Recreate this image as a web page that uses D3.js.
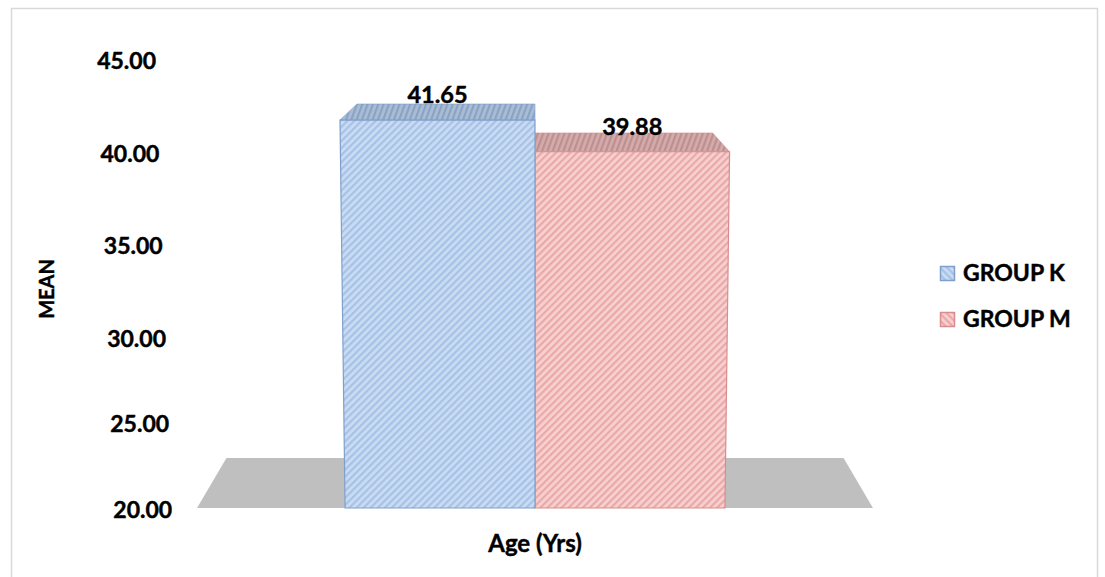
<!DOCTYPE html>
<html>
<head>
<meta charset="utf-8">
<script src="https://cdn.jsdelivr.net/npm/d3@7"></script>
<style>
  html, body { margin: 0; padding: 0; background: #ffffff; }
  svg { display: block; font-family: Lato, "Open Sans", sans-serif; font-weight: 700; }
  .lbl { fill: #000; stroke: #000; stroke-width: 0.45px; }
</style>
</head>
<body>
<svg id="chart" width="1105" height="577"></svg>
<script>
// ---- data ----
const categories = ["Age (Yrs)"];
const seriesNames = ["GROUP K", "GROUP M"];
const seriesValues = [41.65, 39.88];
const tickValues = [20, 25, 30, 35, 40, 45];
const valueAxisTitle = "MEAN";

// ---- colours ----
const faceColors = [
  { bg: "#cadcf3", stripe: "#a6c2e6", topBg: "#a9bdd6", topStripe: "#8ba3c2", edge: "#7f9fcb" },
  { bg: "#f7d0d0", stripe: "#eaa8a8", topBg: "#d4abab", topStripe: "#bd8f8f", edge: "#d98c8c" }
];

const svg = d3.select("#chart");
const defs = svg.append("defs");

// chart frame
svg.append("rect")
  .attr("x", 11.5).attr("y", 8.5).attr("width", 1086).attr("height", 620)
  .attr("fill", "#ffffff").attr("stroke", "#d9d9d9").attr("stroke-width", 1.5);

// ---- 3D projection helpers ----
const cx = 535;                       // horizontal vanishing centre
const k = 0.913;                      // lateral shrink from front to back
const g = y => 1 - (y - 120) * 0.000067;            // slight convergence of verticals
const depthDy = y => -16 - (y - 120) * 0.0876;      // vertical depth offset grows lower down
const px = (X, y) => cx + X * g(y);
const backPt = (X, y) => [cx + X * g(y) * k, y + depthDy(y)];

// front-face value scale
const yFront = d3.scaleLinear().domain([20, 45]).range([508, 60]);
// value axis (labels on the receding wall)
const yAxisScale = d3.scaleLinear()
  .domain(tickValues)
  .range([509, 423, 338, 245, 153, 60]);

// series positions across the single category
const xSeries = d3.scaleBand().domain(seriesNames).range([-195, 195]).padding(0);
const floorExtent = [-347, 347];

// ---- hatch patterns ----
function hatch(id, bg, stripe, angle) {
  const p = defs.append("pattern")
    .attr("id", id)
    .attr("patternUnits", "userSpaceOnUse")
    .attr("width", 8).attr("height", 5)
    .attr("patternTransform", `rotate(${angle})`);
  p.append("rect").attr("width", 8).attr("height", 5).attr("fill", bg);
  p.append("rect").attr("y", 0).attr("width", 8).attr("height", 2.2).attr("fill", stripe);
}
faceColors.forEach((c, i) => {
  hatch("front" + i, c.bg, c.stripe, -45);
  hatch("top" + i, c.topBg, c.topStripe, -70);
  hatch("legend" + i, c.bg, c.stripe, 45);
});

// ---- floor ----
const floorY = yFront(20);
const fl = [
  [px(floorExtent[0], floorY), floorY],
  [px(floorExtent[1], floorY), floorY],
  backPt(floorExtent[1], floorY),
  backPt(floorExtent[0], floorY)
];
svg.append("polygon")
  .attr("points", fl.map(p => p.join(",")).join(" "))
  .attr("fill", "#bfbfbf");

// ---- bars ----
const bars = seriesNames.map((name, i) => ({
  name, value: seriesValues[i], i,
  X0: xSeries(name), X1: xSeries(name) + xSeries.bandwidth()
}));

// top faces (drawn back to front: red first, blue overlaps)
const topG = svg.append("g");
bars.slice().reverse().forEach(b => {
  const yt = yFront(b.value);
  const pts = [
    [px(b.X0, yt), yt], [px(b.X1, yt), yt],
    backPt(b.X1, yt), backPt(b.X0, yt)
  ];
  topG.append("polygon")
    .attr("points", pts.map(p => p.join(",")).join(" "))
    .attr("fill", `url(#top${b.i})`)
    .attr("stroke", faceColors[b.i].edge).attr("stroke-width", 1)
    .attr("stroke-opacity", 0.6);
});

// front faces
bars.slice().reverse().forEach(b => {
  const yt = yFront(b.value), yb = yFront(20);
  const pts = [
    [px(b.X0, yt), yt], [px(b.X1, yt), yt],
    [px(b.X1, yb), yb], [px(b.X0, yb), yb]
  ];
  svg.append("polygon")
    .attr("points", pts.map(p => p.join(",")).join(" "))
    .attr("fill", `url(#front${b.i})`)
    .attr("stroke", faceColors[b.i].edge).attr("stroke-width", 1.2);
});

// value labels
svg.append("g").selectAll("text")
  .data(bars).join("text")
  .attr("class", "lbl")
  .attr("x", b => px((b.X0 + b.X1) / 2, yFront(b.value)))
  .attr("y", b => yFront(b.value) - 17)
  .attr("text-anchor", "middle")
  .attr("font-size", 23.5)
  .text(b => b.value.toFixed(2));

// ---- value axis ----
const axisG = svg.append("g")
  .call(d3.axisLeft(yAxisScale).tickValues(tickValues).tickFormat(d3.format(".2f")).tickSize(0));
axisG.select(".domain").remove();
axisG.selectAll(".tick text")
  .attr("class", "lbl")
  .attr("x", d => 156 + (yAxisScale(d) - 60) * 0.036)
  .attr("dy", "0.35em")
  .attr("text-anchor", "end")
  .attr("font-size", 23)
  .attr("font-family", "Lato, 'Open Sans', sans-serif")
  .attr("font-weight", 700);

// axis titles
svg.append("text")
  .attr("class", "lbl")
  .attr("transform", "translate(54,289) rotate(-90)")
  .attr("text-anchor", "middle")
  .attr("font-size", 20)
  .text(valueAxisTitle);

svg.append("text")
  .attr("class", "lbl")
  .attr("x", cx).attr("y", 552)
  .attr("text-anchor", "middle")
  .attr("font-size", 24)
  .text(categories[0]);

// ---- legend ----
const legend = svg.append("g").selectAll("g")
  .data(seriesNames).join("g")
  .attr("transform", (d, i) => `translate(940,${266 + i * 46})`);
legend.append("rect")
  .attr("x", 0.5).attr("y", 0.5).attr("width", 14).attr("height", 14)
  .attr("fill", (d, i) => `url(#legend${i})`)
  .attr("stroke", (d, i) => faceColors[i].edge).attr("stroke-width", 1.5);
legend.append("text")
  .attr("class", "lbl")
  .attr("x", 23).attr("y", 15)
  .attr("font-size", 23)
  .text(d => d);
</script>
</body>
</html>
